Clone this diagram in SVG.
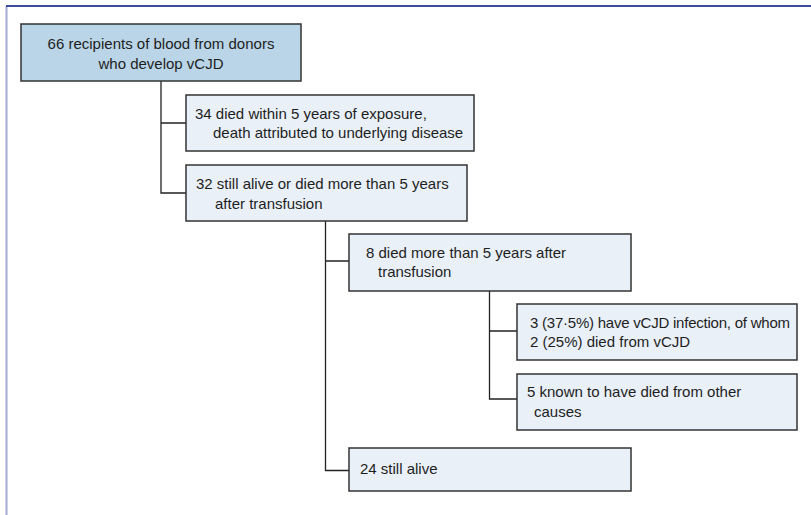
<svg xmlns="http://www.w3.org/2000/svg" width="811" height="515" viewBox="0 0 811 515">
<style>
.box{fill:#e9f0f8;stroke:#333;stroke-width:1.5}
.root{fill:#b9d5e7;stroke:#333;stroke-width:1.5}
.t{font-family:"Liberation Sans",Arial,sans-serif;font-size:15px;fill:#1e1e1e}
.c{fill:none;stroke:#222;stroke-width:1.3}
</style>
<rect width="811" height="515" fill="#fff"/>
<line x1="6.5" y1="6" x2="6.5" y2="515" stroke="#a3aad3" stroke-width="2"/>
<line x1="6" y1="6" x2="811" y2="6" stroke="#3c4d9f" stroke-width="1.8"/>
<g id="connectors">
<path class="c" d="M161 81V193H186M161 123H186"/>
<path class="c" d="M325.5 221V470.5H349M325.5 261H349"/>
<path class="c" d="M489.5 291V399H517M489.5 331H517"/>
</g>
<g id="n1">
<rect class="root" x="21" y="24" width="280" height="57"/>
<text class="t" x="161" y="49" text-anchor="middle">66 recipients of blood from donors</text>
<text class="t" x="161" y="69" text-anchor="middle">who develop vCJD</text>
</g>
<g id="n2">
<rect class="box" x="186" y="95" width="288" height="56"/>
<text class="t" x="195" y="119">34 died within 5 years of exposure,</text>
<text class="t" x="213" y="138">death attributed to underlying disease</text>
</g>
<g id="n3">
<rect class="box" x="186" y="165" width="281" height="56"/>
<text class="t" x="196" y="189">32 still alive or died more than 5 years</text>
<text class="t" x="215" y="209">after transfusion</text>
</g>
<g id="n4">
<rect class="box" x="349" y="234" width="282" height="57"/>
<text class="t" x="366" y="258">8 died more than 5 years after</text>
<text class="t" x="378" y="277">transfusion</text>
</g>
<g id="n5">
<rect class="box" x="517" y="304" width="280" height="56"/>
<text class="t" x="530" y="328" textLength="260">3 (37·5%) have vCJD infection, of whom</text>
<text class="t" x="530" y="347">2 (25%) died from vCJD</text>
</g>
<g id="n6">
<rect class="box" x="517" y="374" width="280" height="56"/>
<text class="t" x="527" y="397">5 known to have died from other</text>
<text class="t" x="534" y="417">causes</text>
</g>
<g id="n7">
<rect class="box" x="349" y="448" width="282" height="43"/>
<text class="t" x="360" y="474">24 still alive</text>
</g>
</svg>
